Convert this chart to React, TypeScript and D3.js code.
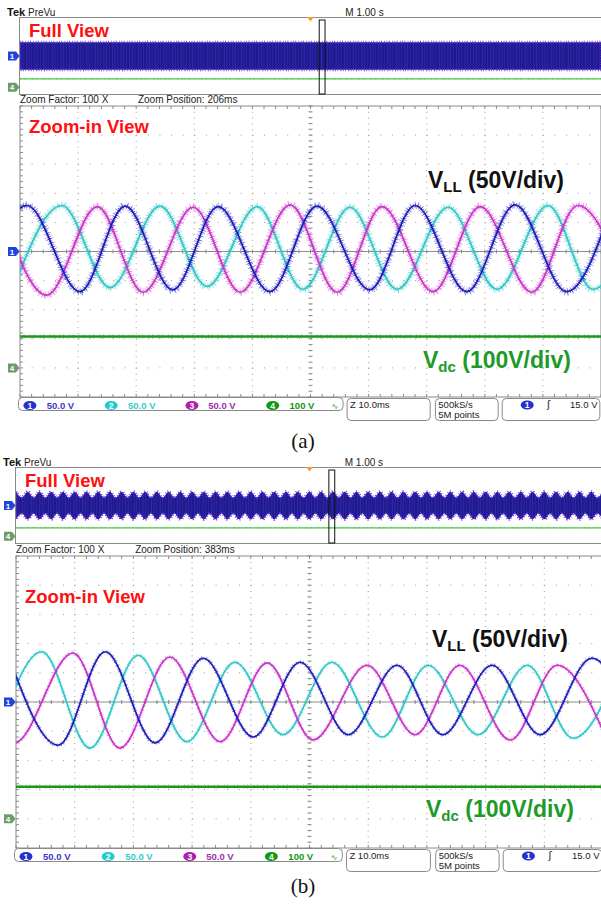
import React from "react";
import * as d3 from "d3";

type Pt = [number, number];

// zoom-in traces: local peaks / troughs [time ms, volts]
// 10 ms/div, 50 V/div
const blueA: Pt[] = [[-7.2, -70], [1.2, 79], [10.3, -69], [18.1, 78], [26.3, -66], [34.1, 77], [43.0, -69], [51.1, 78], [60.2, -66], [68.0, 79], [76.9, -69], [85.2, 80], [94.1, -69], [101.9, 78]];
const cyanA: Pt[] = [[-1.2, -64], [7.2, 79], [15.5, -62], [24.1, 78], [32.2, -60], [40.8, 77], [48.7, -65], [56.8, 76], [64.9, -65], [73.7, 76], [82.1, -65], [90.9, 79], [98.6, -65], [107, 77]];
const magentaA: Pt[] = [[-3.4, 78], [4.6, -75], [13.3, 77], [21.2, -70], [29.8, 76], [37.9, -70], [46.5, 80], [54.6, -70], [62.3, 77], [71.1, -69], [79.2, 77], [88.1, -70], [96.0, 79], [104.8, -70]];

const blueB: Pt[] = [[-1.4, 82], [7.2, -74], [15.2, 86], [23.7, -70], [31.9, 75], [40.4, -60], [48.4, 68], [56.6, -56], [64.9, 63], [72.7, -56], [81.1, 63], [89.3, -56], [98.1, 75], [106, -60]];
const cyanB: Pt[] = [[-3.7, -75], [4.4, 86], [12.6, -79], [20.8, 80], [29.1, -68], [37.3, 68], [45.5, -56], [53.8, 68], [62.4, -60], [70.2, 63], [78.7, -56], [87.1, 63], [94.9, -62], [103, 65]];
const magentaB: Pt[] = [[-8.2, 80], [-0.3, -70], [9.7, 84], [17.7, -79], [26.2, 77], [34.8, -68], [42.8, 67], [50.6, -65], [59.8, 63], [68.0, -56], [75.6, 63], [84.2, -65], [92.2, 63], [100.5, -60]];

// dc link (ch4, 100 V/div)
const vdcA = 108;
const vdcB = 110;

// full record (PreVu), 1 s/div
const fullBandA = [-88, 88];
const fullPeakB = 90;
const fullDipB = 52;
const bumpB = 0.2; // s between envelope bumps
const zoomStartA = 5.15; // s
const zoomStartB = 5.33;
const triggerAt = 5;

const zoomInfoA = ["Zoom Factor: 100 X", "Zoom Position: 206ms"];
const zoomInfoB = ["Zoom Factor: 100 X", "Zoom Position: 383ms"];
const chIds = ["1", "2", "3", "4"];
const chScales = ["50.0 V", "50.0 V", "50.0 V", "100 V"];
const fullTimeBase = "M 1.00 s";
const zoomTimeBase = "Z 10.0ms";
const sampleRate = "500kS/s";
const recordLen = "5M points";
const trigLevel = "15.0 V";

const C = { blue: "#1c1cb8", cyan: "#30c6c6", mag: "#c834c8", green: "#1a961a" };
const chColors = ["#2233cc", "#22cccc", "#aa22aa", "#119911"];
const chText = ["#3a3acc", "#33cccc", "#9933aa", "#119911"];
const FONT = "'Liberation Sans', Arial, sans-serif";

const layoutA = { id: "a", gx: 20, dx: 58.1, fy: 17, fh: 78, zy: 106, zh: 291, zoomLblY: 133, vllX: 428, vllY: 188, vdcX: 423, vdcY: 368, capY: 448, spike: 8, lw: 1.7 };
const layoutB = { id: "b", gx: 16, dx: 58.7, fy: 467, fh: 77, zy: 556, zh: 292, zoomLblY: 603, vllX: 432, vllY: 647, vdcX: 426, vdcY: 817, capY: 893, spike: 4.5, lw: 1.6 };

function Marker({ x, y, label, color }: any) {
  return (
    <g>
      <path d={`M${x - 12},${y - 4.5} h8 l3.5,4.5 l-3.5,4.5 h-8 z`} fill={color} />
      <text x={x - 8} y={y + 3} fontSize={8} fill="#fff" fontFamily={FONT} textAnchor="middle" fontWeight="bold">{label}</text>
    </g>
  );
}

function Panel({ L, traces, vdc, full, zoomStart, info, caption }: any) {
  const x0 = L.gx;
  const x1 = L.gx + 10 * L.dx;
  // full view scales
  const fx = d3.scaleLinear().domain([0, 10]).range([x0, x1]);
  const fdiv = L.fh / 10;
  const fcy = L.fy + L.fh / 2;
  const fyV = d3.scaleLinear().domain([0, 50]).range([fcy, fcy - fdiv]);
  const f4 = fcy + 4 * fdiv;
  const fy4 = d3.scaleLinear().domain([0, 100]).range([f4, f4 - fdiv]);
  // zoom-in scales
  const zx = d3.scaleLinear().domain([0, 100]).range([x0, x1]);
  const zdiv = L.zh / 10;
  const zcy = L.zy + L.zh / 2;
  const zyV = d3.scaleLinear().domain([0, 50]).range([zcy, zcy - zdiv]);
  const z4 = zcy + 4 * zdiv;
  const zy4 = d3.scaleLinear().domain([0, 100]).range([z4, z4 - zdiv]);
  const zb = L.zy + L.zh;

  const line = d3.line<Pt>().x((d) => zx(d[0])).y((d) => zyV(d[1])).curve(d3.curveMonotoneX);
  const area = d3.area<any>().x((d) => fx(d.t)).y0((d) => fyV(d.lo)).y1((d) => fyV(d.hi)).curve(d3.curveMonotoneX);
  const bandPath = area(full);

  const clipZ = `clipz-${L.id}`;
  const clipF = `clipf-${L.id}`;
  const clipBand = `clipband-${L.id}`;

  const minorX = d3.range(0, 51).map((i) => x0 + (i * L.dx) / 5);
  const minorY = d3.range(0, 51).map((i) => L.zy + (i * zdiv) / 5);
  const at = (div: number) => x0 + div * L.dx;
  const sy = zb + 12;

  return (
    <g>
      <defs>
        <clipPath id={clipZ}><rect x={x0} y={L.zy} width={x1 - x0} height={L.zh} /></clipPath>
        <clipPath id={clipF}><rect x={x0} y={L.fy} width={x1 - x0} height={L.fh} /></clipPath>
        <clipPath id={clipBand}><path d={bandPath || ""} /></clipPath>
      </defs>

      {/* header */}
      <text x={x0 - 13} y={L.fy - 1} fontFamily={FONT} fontSize={11} fontWeight="bold" fill="#111">Tek</text>
      <text x={x0 + 8} y={L.fy - 1.5} fontFamily={FONT} fontSize={10} fill="#222">PreVu</text>
      <text x={x0 + 5.6 * L.dx} y={L.fy - 1.5} fontFamily={FONT} fontSize={10} fill="#222">{fullTimeBase}</text>

      {/* full view */}
      <rect x={x0 - 0.5} y={L.fy + 0.5} width={x1 - x0 + 2} height={L.fh - 1} fill="#fff" stroke="#8a8a8a" />
      <g clipPath={`url(#${clipF})`}>
        <path d={bandPath || ""} fill="#1c1c8a" />
        <g clipPath={`url(#${clipBand})`}>
          <line x1={x0} x2={x1} y1={fcy} y2={fcy} stroke="#5230dc" strokeWidth={L.fh} strokeDasharray="1 1.7 0.8 2.4 1.2 1.5" opacity={0.45} />
        </g>
        <path d={bandPath || ""} fill="none" stroke="#6a2ad8" strokeWidth={3} strokeDasharray="0.8 1.4 1 2.3 0.7 1.6" opacity={0.9} />
        <line x1={x0} x2={x1} y1={fy4(vdc)} y2={fy4(vdc)} stroke="#3ccc3c" strokeWidth={1.3} />
        <line x1={x0} x2={x1} y1={fy4(vdc)} y2={fy4(vdc)} stroke="#5a9a5a" strokeWidth={2} strokeDasharray="0.6 4 0.5 7" opacity={0.6} />
      </g>
      <rect x={fx(zoomStart)} y={L.fy + 3} width={fx(zoomStart + 0.1) - fx(zoomStart)} height={L.fh - 4} fill="none" stroke="#111" strokeWidth={1} />
      <path d={`M${fx(triggerAt) - 3.5},${L.fy} h7 l-3.5,4.5 z`} fill="#f5a02a" />
      <Marker x={x0} y={fcy} label="1" color="#2244dd" />
      <Marker x={x0} y={f4} label="4" color="#6c9c6c" />

      {/* zoom info */}
      <text x={x0} y={L.zy - 3} fontFamily={FONT} fontSize={10} fill="#222">{info[0]}</text>
      <text x={x0 + 2.03 * L.dx} y={L.zy - 3} fontFamily={FONT} fontSize={10} fill="#222">{info[1]}</text>

      {/* zoom graticule */}
      <rect x={x0} y={L.zy} width={x1 - x0} height={L.zh} fill="#fff" stroke="#8a8a8a" />
      {d3.range(1, 10).map((i) => (
        <line key={"v" + i} x1={x0 + i * L.dx} x2={x0 + i * L.dx} y1={L.zy} y2={zb} stroke="#9a9a9a" strokeDasharray={`1 ${zdiv / 5 - 1}`} />
      ))}
      {d3.range(1, 10).map((i) => (
        <line key={"h" + i} x1={x0} x2={x1} y1={L.zy + i * zdiv} y2={L.zy + i * zdiv} stroke="#9a9a9a" strokeDasharray={`1 ${L.dx / 5 - 1}`} />
      ))}
      <line x1={x0} x2={x1} y1={zcy} y2={zcy} stroke="#8c8c8c" />
      {minorX.map((x, i) => (
        <g key={"tx" + i}>
          <line x1={x} x2={x} y1={L.zy} y2={L.zy + 3} stroke="#8a8a8a" />
          <line x1={x} x2={x} y1={zb - 3} y2={zb} stroke="#8a8a8a" />
          <line x1={x} x2={x} y1={zcy - 2} y2={zcy + 2} stroke="#8a8a8a" />
        </g>
      ))}
      {minorY.map((y, i) => (
        <g key={"ty" + i}>
          <line x1={x0} x2={x0 + 3} y1={y} y2={y} stroke="#8a8a8a" />
          <line x1={x0 + 5 * L.dx - 2} x2={x0 + 5 * L.dx + 2} y1={y} y2={y} stroke="#8a8a8a" />
        </g>
      ))}

      {/* traces */}
      <g clipPath={`url(#${clipZ})`}>
        {traces.map(([pts, color]: any, i: number) => {
          const d = line(pts) || "";
          return (
            <g key={i} fill="none">
              <path d={d} stroke={color} strokeWidth={L.spike} strokeDasharray="0.7 2.9 0.6 1.8 0.9 3.7" opacity={0.45} />
              <path d={d} stroke={color} strokeWidth={L.spike * 0.55} strokeDasharray="0.6 1.2 0.8 1.7" opacity={0.7} />
              <path d={d} stroke={color} strokeWidth={L.lw} />
            </g>
          );
        })}
        <line x1={x0} x2={x1} y1={zy4(vdc)} y2={zy4(vdc)} stroke={C.green} strokeWidth={2.4} />
        <line x1={x0} x2={x1} y1={zy4(vdc)} y2={zy4(vdc)} stroke="#3a9a2a" strokeWidth={5} strokeDasharray="0.6 3 0.8 5.5" opacity={0.5} />
      </g>
      <Marker x={x0} y={zcy} label="1" color="#2244dd" />
      <Marker x={x0} y={z4} label="4" color="#6c9c6c" />

      {/* labels */}
      <text x={x0 + 9} y={L.fy + 20} fontFamily={FONT} fontSize={18.5} fontWeight="bold" fill="#ff1010">Full View</text>
      <text x={x0 + 9} y={L.zoomLblY} fontFamily={FONT} fontSize={18.5} fontWeight="bold" fill="#ff1010">Zoom-in View</text>
      <text x={L.vllX} y={L.vllY} fontFamily={FONT} fontSize={23} fontWeight="bold" fill="#111" style={{ whiteSpace: "pre" }}>
        <tspan>V</tspan>
        <tspan fontSize={15} dy={4}>LL</tspan>
        <tspan dy={-4}>{" (50V/div)"}</tspan>
      </text>
      <text x={L.vdcX} y={L.vdcY} fontFamily={FONT} fontSize={23} fontWeight="bold" fill="#1d9a2a" style={{ whiteSpace: "pre" }}>
        <tspan>V</tspan>
        <tspan fontSize={15} dy={4}>dc</tspan>
        <tspan dy={-4}>{" (100V/div)"}</tspan>
      </text>

      {/* status bar */}
      <rect x={x0 - 1.5} y={zb + 0.5} width={at(5.56) - x0 + 1.5} height={13} rx={4} fill="#fff" stroke="#8a8a8a" />
      <rect x={at(5.63)} y={zb + 1.5} width={at(7.06) - at(5.63)} height={22} rx={4} fill="#fff" stroke="#8a8a8a" />
      <rect x={at(7.15)} y={zb + 1.5} width={at(8.23) - at(7.15)} height={22} rx={4} fill="#fff" stroke="#8a8a8a" />
      <rect x={at(8.3)} y={zb + 1.5} width={at(9.98) - at(8.3)} height={22} rx={4} fill="#fff" stroke="#8a8a8a" />
      {chIds.map((id, i) => {
        const cx = at([0.17, 1.57, 2.96, 4.35][i]);
        const tx = at([0.46, 1.86, 3.24, 4.64][i]);
        return (
          <g key={id}>
            <ellipse cx={cx} cy={sy - 3.5} rx={6.5} ry={4.6} fill={chColors[i]} />
            <text x={cx} y={sy - 0.5} fontFamily={FONT} fontSize={8.5} fontWeight="bold" fill="#fff" textAnchor="middle">{id}</text>
            <text x={tx} y={sy} fontFamily={FONT} fontSize={9.5} fontWeight="bold" fill={chText[i]}>{chScales[i]}</text>
          </g>
        );
      })}
      <text x={at(5.36)} y={sy} fontFamily="'DejaVu Sans', sans-serif" fontSize={8} fill="#119911">∿</text>
      <text x={at(5.68)} y={sy - 1} fontFamily={FONT} fontSize={9.5} fill="#222">{zoomTimeBase}</text>
      <text x={at(7.2)} y={sy - 1} fontFamily={FONT} fontSize={9.5} fill="#222">{sampleRate}</text>
      <text x={at(7.2)} y={sy + 9} fontFamily={FONT} fontSize={9.5} fill="#222">{recordLen}</text>
      <ellipse cx={at(8.73)} cy={sy - 4} rx={6.5} ry={4.6} fill={chColors[0]} />
      <text x={at(8.73)} y={sy - 1} fontFamily={FONT} fontSize={8.5} fontWeight="bold" fill="#fff" textAnchor="middle">1</text>
      <text x={at(9.07)} y={sy - 1} fontFamily="'DejaVu Sans', sans-serif" fontSize={10} fill="#111">ʃ</text>
      <text x={at(9.94)} y={sy - 1} fontFamily={FONT} fontSize={9.5} fill="#222" textAnchor="end">{trigLevel}</text>

      <text x={303} y={L.capY} fontFamily="'Liberation Serif', 'Times New Roman', serif" fontSize={21} fill="#111" textAnchor="middle">{caption}</text>
    </g>
  );
}

export default function App() {
  const fullA = [0, 10].map((t) => ({ t, lo: fullBandA[0], hi: fullBandA[1] }));
  const fullB = d3.range(0, 10.001, bumpB / 2).map((t, i) => {
    const v = i % 2 === 0 ? fullPeakB : fullDipB;
    return { t, lo: -v, hi: v };
  });
  return (
    <svg width={601} height={905} style={{ position: "absolute", left: 0, top: 0, background: "#fff" }}>
      <rect width={601} height={905} fill="#fff" />
      <Panel L={layoutA} traces={[[cyanA, C.cyan], [magentaA, C.mag], [blueA, C.blue]]} vdc={vdcA} full={fullA} zoomStart={zoomStartA} info={zoomInfoA} caption="(a)" />
      <Panel L={layoutB} traces={[[cyanB, C.cyan], [magentaB, C.mag], [blueB, C.blue]]} vdc={vdcB} full={fullB} zoomStart={zoomStartB} info={zoomInfoB} caption="(b)" />
    </svg>
  );
}
